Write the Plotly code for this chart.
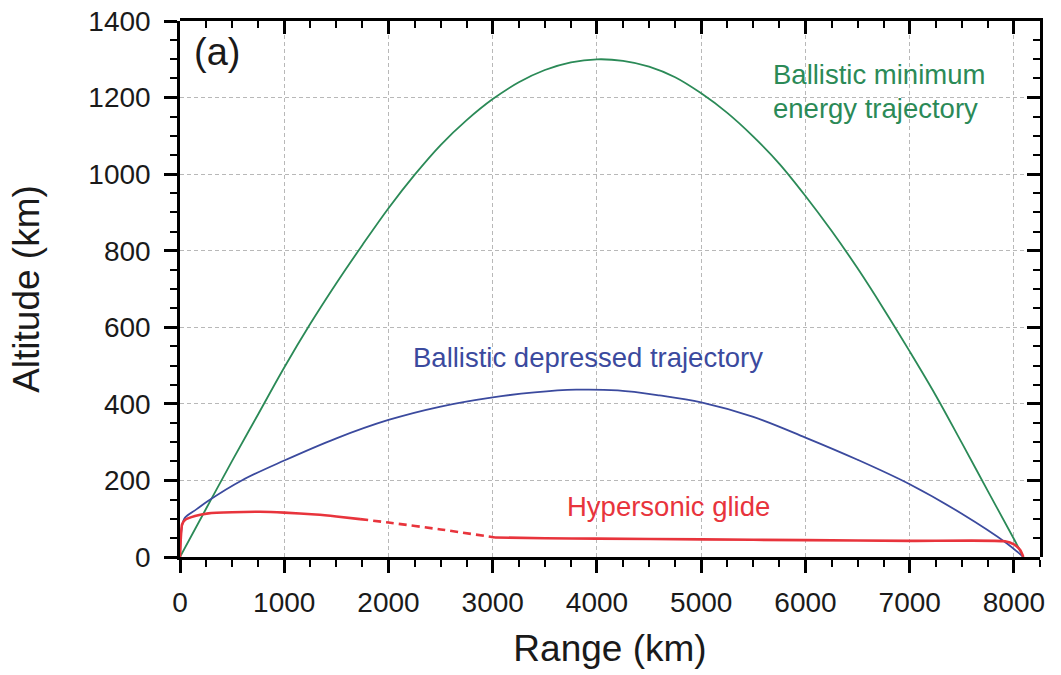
import plotly.graph_objects as go

# ---- data ----
green_x = [0, 250, 500, 750, 1000, 1250, 1500, 1750, 2000, 2250, 2500, 2750, 3000, 3250, 3500, 3750,
           4000, 4250, 4500, 4750, 5000, 5250, 5500, 5750, 6000, 6250, 6500, 6750, 7000, 7250, 7500,
           7750, 8000, 8090]
green_y = [0, 126, 251, 373, 495, 609, 715, 815, 911, 998, 1076, 1141, 1196, 1240, 1272, 1292,
           1300, 1296, 1281, 1253, 1211, 1160, 1098, 1027, 943, 852, 754, 648, 537, 422, 298,
           172, 47, 0]

blue_x = [0, 10, 25, 48, 160, 272, 592, 1000, 1500, 2000, 2500, 3000, 3400, 3800, 4200, 4600,
          5000, 5500, 6000, 6500, 7000, 7500, 7930, 8090]
blue_y = [0, 60, 88, 103, 125, 147, 200, 252, 310, 358, 393, 417, 430, 437, 435, 422,
          404, 366, 312, 254, 190, 113, 36, 0]

red_solid1_x = [0, 8, 20, 50, 144, 272, 500, 767, 1000, 1300, 1500, 1727]
red_solid1_y = [0, 50, 85, 97, 107, 114, 117, 118, 116, 111, 106, 99]

red_dash_x = [1727, 2000, 2500, 3022]
red_dash_y = [99, 90, 72, 51]

red_solid2_x = [3022, 3500, 4000, 5000, 6000, 7000, 7914, 8000, 8060, 8090]
red_solid2_y = [51, 49, 48, 46, 44, 42, 41, 33, 18, 0]

x_ticks = [0, 1000, 2000, 3000, 4000, 5000, 6000, 7000, 8000]
y_ticks = [0, 200, 400, 600, 800, 1000, 1200, 1400]
x_range = [0, 8250]
y_range = [0, 1400]

GREEN = "#2b8a57"
BLUE = "#3b4a9e"
RED = "#e8343c"
FONT = "Liberation Sans, Arial, sans-serif"

fig = go.Figure()
fig.add_trace(go.Scatter(x=green_x, y=green_y, mode="lines", line=dict(color=GREEN, width=1.8, shape="spline", smoothing=1.0), showlegend=False))
fig.add_trace(go.Scatter(x=blue_x, y=blue_y, mode="lines", line=dict(color=BLUE, width=1.8, shape="spline", smoothing=1.0), showlegend=False))
fig.add_trace(go.Scatter(x=red_solid1_x, y=red_solid1_y, mode="lines", line=dict(color=RED, width=2.6, shape="spline", smoothing=0.6), showlegend=False))
fig.add_trace(go.Scatter(x=red_dash_x, y=red_dash_y, mode="lines", line=dict(color=RED, width=2.6, dash="8px,5px", shape="spline", smoothing=0.6), showlegend=False))
fig.add_trace(go.Scatter(x=red_solid2_x, y=red_solid2_y, mode="lines", line=dict(color=RED, width=2.6, shape="spline", smoothing=0.6), showlegend=False))
# carrier for the second (frame) subplot that gives the top/right inward ticks
fig.add_trace(go.Scatter(x=[x_range[0]], y=[y_range[0]], xaxis="x2", yaxis="y2", mode="markers",
                         marker=dict(opacity=0), showlegend=False, hoverinfo="skip"))

axis_common = dict(
    type="linear", autorange=False, automargin=False,
    showline=True, linecolor="black", linewidth=2.5,
    ticks="outside", ticklen=13, tickwidth=2.5, tickcolor="black",
    showgrid=True, gridcolor="#b8b8b8", gridwidth=1, griddash="4px,3px",
    zeroline=False,
    tickfont=dict(family=FONT, size=28, color="#1a1a1a"),
    title_font=dict(family=FONT, size=37, color="#1a1a1a"),
)
frame_common = dict(
    type="linear", autorange=False, automargin=False, domain=[0, 1],
    showline=True, linecolor="black", linewidth=2.5,
    ticks="inside", ticklen=13, tickwidth=2.5, tickcolor="black",
    showticklabels=False, showgrid=False, zeroline=False,
)

fig.update_layout(
    template="none",
    width=1061, height=675, autosize=False,
    margin=dict(l=180, r=21, t=21, b=118, pad=0),
    paper_bgcolor="white", plot_bgcolor="rgba(0,0,0,0)",
    font=dict(family=FONT),
    xaxis=dict(range=x_range, tickvals=x_ticks, domain=[0, 1], title=dict(text="Range (km)", standoff=18),
               minor=dict(dtick=250, tick0=0, ticks="outside", ticklen=7, tickwidth=2, tickcolor="black", showgrid=False),
               ticklabelstandoff=6, **axis_common),
    yaxis=dict(range=y_range, tickvals=y_ticks, domain=[0, 1], title=dict(text="Altitude (km)", standoff=38),
               minor=dict(dtick=50, tick0=0, ticks="outside", ticklen=7, tickwidth=2, tickcolor="black", showgrid=False),
               ticklabelstandoff=8, **axis_common),
    xaxis2=dict(range=x_range, tickvals=x_ticks, side="top", anchor="y2",
                minor=dict(dtick=250, tick0=0, ticks="inside", ticklen=7, tickwidth=2, tickcolor="black", showgrid=False),
                **frame_common),
    yaxis2=dict(range=y_range, tickvals=y_ticks, side="right", anchor="x2",
                minor=dict(dtick=50, tick0=0, ticks="inside", ticklen=7, tickwidth=2, tickcolor="black", showgrid=False),
                **frame_common),
)

fig.add_annotation(text="(a)", x=0, y=1400, xref="x", yref="y", xanchor="left", yanchor="top",
                   xshift=12, yshift=-8, showarrow=False, font=dict(family=FONT, size=38, color="#1a1a1a"))
fig.add_annotation(text="Ballistic minimum", x=5669, y=1260, xanchor="left", yanchor="middle",
                   showarrow=False, font=dict(family=FONT, size=27.5, color=GREEN))
fig.add_annotation(text="energy trajectory", x=5669, y=1171, xanchor="left", yanchor="middle",
                   showarrow=False, font=dict(family=FONT, size=27.5, color=GREEN))
fig.add_annotation(text="Ballistic depressed trajectory", x=3914, y=522, xanchor="center", yanchor="middle",
                   showarrow=False, font=dict(family=FONT, size=27.5, color=BLUE))
fig.add_annotation(text="Hypersonic glide", x=4683, y=132, xanchor="center", yanchor="middle",
                   showarrow=False, font=dict(family=FONT, size=27.5, color=RED))

fig.write_html("out.html")
